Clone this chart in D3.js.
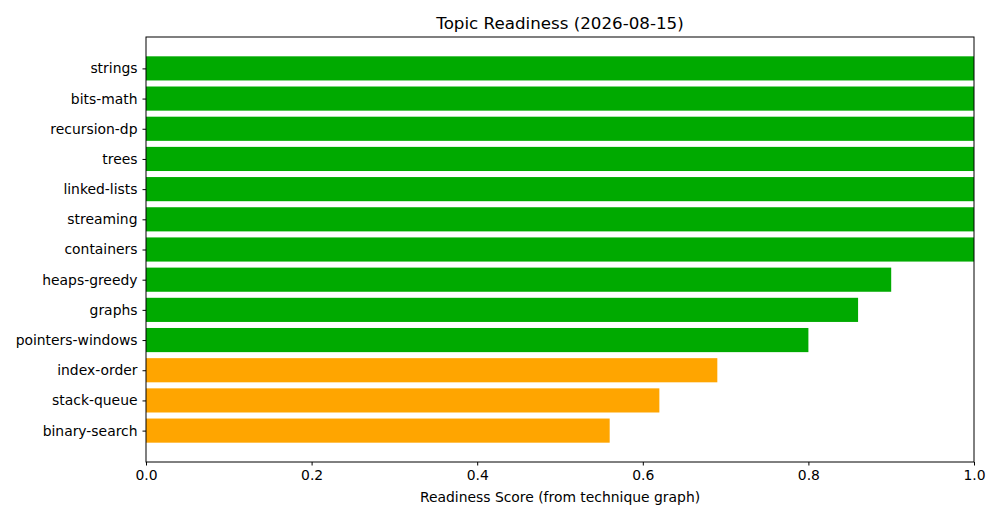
<!DOCTYPE html>
<html>
<head>
<meta charset="utf-8">
<script src="https://cdn.jsdelivr.net/npm/d3@7"></script>
<style>
  body { margin: 0; background: #fff; }
  svg { font-family: "DejaVu Sans", sans-serif; }
</style>
</head>
<body>
<svg id="chart"></svg>
<script>
// topics listed top to bottom
const topics = ["strings", "bits-math", "recursion-dp", "trees", "linked-lists", "streaming",
    "containers", "heaps-greedy", "graphs", "pointers-windows", "index-order", "stack-queue", "binary-search"];
const scores = [1.0, 1.0, 1.0, 1.0, 1.0, 1.0, 1.0, 0.90, 0.86, 0.80, 0.69, 0.62, 0.56];
const xTicks = [0.0, 0.2, 0.4, 0.6, 0.8, 1.0];
const readyCut = 0.75;

const width = 1000, height = 520;
const margin = {top: 37, right: 26, bottom: 58, left: 146};
const innerW = width - margin.left - margin.right;
const innerH = height - margin.top - margin.bottom;
const fontSize = 13.9;

const svg = d3.select('#chart').attr('width', width).attr('height', height);
const chart = svg.append('g').attr('transform', `translate(${margin.left}, ${margin.top})`);

const xscale = d3.scaleLinear().domain([0, 1]).range([0, innerW]);

// matplotlib-like: bar height 0.8, 5% margins
const n = topics.length;
const lo = -0.4, hi = n - 1 + 0.4, pad = (hi - lo) * 0.05;
const yscale = d3.scaleLinear().domain([lo - pad, hi + pad]).range([0, innerH]);

chart.selectAll('rect.bar')
    .data(topics)
    .enter()
    .append('rect')
    .attr('class', 'bar')
    .attr('x', xscale(0))
    .attr('y', (d, i) => yscale(i - 0.4))
    .attr('width', (d, i) => xscale(scores[i]) - xscale(0))
    .attr('height', yscale(0.4) - yscale(-0.4))
    .attr('fill', (d, i) => scores[i] >= readyCut ? '#00aa00' : '#ffa500');

// frame
chart.append('rect')
    .attr('width', innerW).attr('height', innerH)
    .attr('fill', 'none').attr('stroke', '#000').attr('stroke-width', 1);

const xaxis = d3.axisBottom(xscale).tickValues(xTicks).tickFormat(d3.format('.1f'))
    .tickSize(3.5).tickPadding(5).tickSizeOuter(0);
const xg = chart.append('g').attr('transform', `translate(0, ${innerH})`).call(xaxis);
xg.select('.domain').remove();
xg.selectAll('text').attr('font-size', fontSize).attr('fill', '#000').attr('font-family', '"DejaVu Sans", sans-serif');

const yaxis = d3.axisLeft(yscale).tickValues(d3.range(n)).tickFormat(i => topics[i])
    .tickSize(3.5).tickPadding(5).tickSizeOuter(0);
const yg = chart.append('g').call(yaxis);
yg.select('.domain').remove();
yg.selectAll('text').attr('font-size', fontSize).attr('fill', '#000').attr('font-family', '"DejaVu Sans", sans-serif');

svg.append('text')
    .attr('x', margin.left + innerW / 2).attr('y', 29)
    .attr('text-anchor', 'middle').attr('font-size', 16.7)
    .text('Topic Readiness (2026-08-15)');

svg.append('text')
    .attr('x', margin.left + innerW / 2).attr('y', 502)
    .attr('text-anchor', 'middle').attr('font-size', fontSize)
    .text('Readiness Score (from technique graph)');
</script>
</body>
</html>
